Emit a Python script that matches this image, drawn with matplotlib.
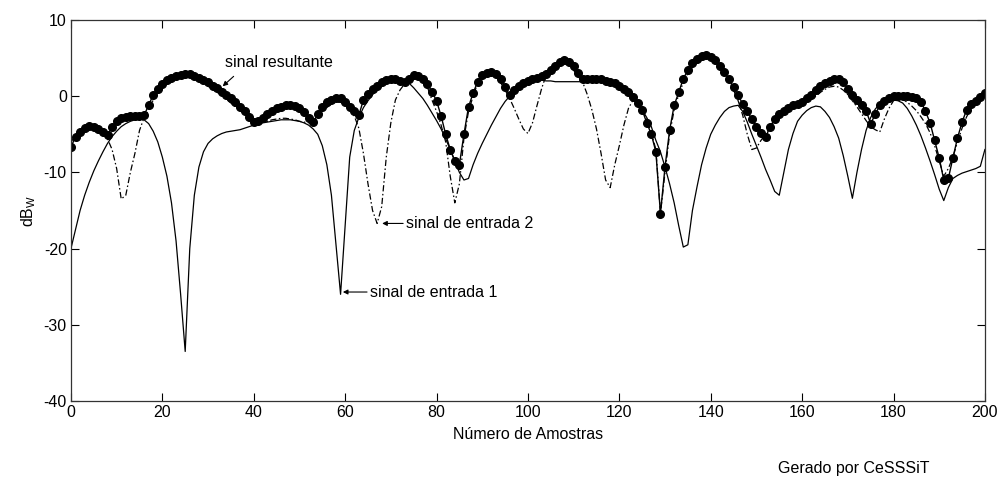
import numpy as np
import matplotlib.pyplot as plt

plt.rcParams['font.family'] = ['Liberation Sans', 'DejaVu Sans']
plt.rcParams['axes.unicode_minus'] = False

# amostras 0..200
amostras = np.arange(0, 201)

# sinal de entrada 1 (linha cheia), dB
entrada1 = [
    -20.0, -17.5, -15.0, -13.0, -11.3, -9.8, -8.5, -7.3, -6.2, -5.3,
    -4.6, -4.0, -3.6, -3.3, -3.1, -3.0, -3.1, -3.6, -4.6, -6.0,
    -8.0, -10.5, -14.0, -19.0, -26.0, -33.5, -20.0, -13.0, -9.3, -7.3,
    -6.2, -5.6, -5.2, -4.9, -4.7, -4.6, -4.5, -4.4, -4.2, -4.0,
    -3.8, -3.6, -3.5, -3.4, -3.3, -3.2, -3.1, -3.1, -3.1, -3.2,
    -3.3, -3.5, -3.8, -4.3, -5.0, -6.5, -9.0, -13.0, -19.5, -26.0,
    -17.0, -8.0, -4.5, -2.8, -1.5, -0.6, 0.2, 0.8, 1.3, 1.7,
    2.0, 2.1, 2.1, 2.0, 1.7, 1.1, 0.4, -0.3, -1.2, -2.2,
    -3.2, -4.3, -5.6, -7.0, -8.5, -10.0, -11.0, -10.8, -9.0, -7.5,
    -6.2, -5.0, -3.8, -2.7, -1.6, -0.7, 0.0, 0.6, 1.1, 1.5,
    1.8, 2.0, 2.1, 2.1, 2.0, 2.0, 1.9, 1.9, 1.9, 1.9,
    1.9, 1.9, 1.9, 1.9, 1.9, 1.9, 1.9, 1.8, 1.7, 1.6,
    1.5, 1.0, 0.4, -0.3, -1.0, -1.8, -2.8, -4.0, -5.8, -7.3,
    -9.3, -11.5, -14.0, -17.0, -19.8, -19.5, -15.0, -11.9, -9.0, -6.8,
    -5.0, -3.8, -2.8, -2.0, -1.5, -1.3, -1.2, -2.0, -3.4, -5.0,
    -6.5, -8.0, -9.6, -11.0, -12.5, -13.0, -10.0, -7.0, -4.9, -3.3,
    -2.5, -1.9, -1.5, -1.3, -1.4, -2.0, -2.8, -4.0, -5.5, -7.8,
    -10.5, -13.4, -10.0, -7.0, -4.5, -2.8, -1.7, -1.0, -0.6, -0.4,
    -0.5, -0.6, -0.9, -1.6, -2.6, -3.8, -5.2, -6.8, -8.5, -10.3,
    -12.2, -13.7, -12.0, -10.8, -10.4, -10.1, -9.9, -9.7, -9.5, -9.2,
    -7.0,
]

# sinal de entrada 2 (traco-ponto), dB
entrada2 = [
    -6.0, -5.2, -4.6, -4.2, -4.0, -4.1, -4.4, -4.9, -5.6, -7.0,
    -9.5, -13.5, -13.0, -10.0, -7.5, -4.5, -2.8, -1.8, -0.5, 0.5,
    1.3, 1.8, 2.2, 2.5, 2.6, 2.6, 2.5, 2.3, 2.0, 1.7,
    1.3, 0.9, 0.5, 0.1, -0.4, -0.9, -1.4, -1.9, -2.4, -2.9,
    -3.3, -3.5, -3.4, -3.3, -3.1, -3.0, -2.9, -2.9, -3.0, -3.1,
    -3.3, -3.4, -3.5, -3.5, -3.0, -2.2, -1.5, -1.0, -0.8, -0.8,
    -1.1, -1.7, -2.6, -4.2, -7.5, -11.5, -15.0, -16.7, -14.5, -8.0,
    -3.5, -0.5, 0.8, 1.6, 2.1, 2.3, 2.3, 2.0, 1.2, -0.5,
    -2.0, -3.8, -6.0, -10.5, -14.0, -11.5, -5.5, -2.0, 0.0, 1.7,
    2.6, 2.9, 2.9, 2.5, 1.8, 0.8, -0.3, -1.6, -3.0, -4.3,
    -4.9, -3.5, -1.2, 1.0, 2.8, 3.6, 4.0, 4.2, 4.2, 4.0,
    3.4, 2.6, 1.8, 0.2, -1.8, -4.3, -7.5, -11.0, -12.0, -9.0,
    -6.5, -3.8, -1.6, -0.5, -1.0, -2.0, -3.0, -4.8, -7.0, -15.4,
    -10.0, -5.0, -1.8, 0.2, 1.8, 3.0, 3.8, 4.3, 4.7, 4.9,
    4.9, 4.5, 3.8, 3.0, 2.0, 0.8, -0.6, -2.5, -5.0, -7.0,
    -6.8, -5.8, -5.0, -4.0, -3.2, -2.6, -2.2, -1.9, -1.6, -1.4,
    -1.1, -0.8, -0.4, 0.0, 0.5, 0.9, 1.2, 1.3, 1.2, 0.8,
    0.2, -0.6, -1.4, -2.3, -3.2, -4.0, -4.4, -4.7, -3.0, -1.6,
    -0.6, -0.3, -0.4, -0.8, -1.3, -1.9, -2.7, -3.6, -4.8, -6.5,
    -8.5, -10.5, -9.5, -8.0, -6.0, -4.2, -2.7, -1.6, -0.9, -0.4,
    -0.1,
]

# sinal resultante (linha com pontos), dB
resultante = [
    -6.7, -5.3, -4.7, -4.2, -3.9, -4.0, -4.3, -4.7, -5.1, -4.0,
    -3.3, -2.9, -2.7, -2.6, -2.6, -2.6, -2.5, -1.2, 0.2, 0.9,
    1.6, 2.1, 2.4, 2.7, 2.8, 2.9, 2.9, 2.7, 2.4, 2.1,
    1.8, 1.4, 1.1, 0.6, 0.2, -0.3, -0.8, -1.4, -2.0, -2.7,
    -3.4, -3.3, -2.8, -2.3, -1.9, -1.6, -1.4, -1.2, -1.2, -1.3,
    -1.6, -2.1, -2.8, -3.4, -2.4, -1.4, -0.8, -0.5, -0.3, -0.3,
    -0.7, -1.4, -2.0, -2.5, -0.5, 0.3, 0.9, 1.4, 1.8, 2.1,
    2.3, 2.2, 2.0, 1.9, 2.3, 2.8, 2.7, 2.3, 1.6, 0.6,
    -0.6, -2.6, -5.0, -7.0, -8.5, -9.0, -5.0, -1.4, 0.4, 1.9,
    2.8, 3.1, 3.2, 2.9, 2.3, 1.2, 0.1, 0.8, 1.3, 1.7,
    2.0, 2.2, 2.4, 2.6, 2.9, 3.4, 4.0, 4.5, 4.7, 4.5,
    3.9, 3.0, 2.3, 2.2, 2.2, 2.3, 2.2, 2.0, 1.9, 1.7,
    1.4, 1.0, 0.5, -0.1, -0.9, -1.8, -3.5, -5.0, -7.3, -15.4,
    -9.3, -4.5, -1.2, 0.5, 2.3, 3.4, 4.3, 4.9, 5.3, 5.4,
    5.2, 4.7, 3.9, 3.2, 2.2, 1.2, 0.1, -1.0, -2.0, -3.0,
    -4.0, -4.8, -5.4, -4.0, -3.0, -2.4, -1.9, -1.5, -1.2, -1.0,
    -0.7, -0.3, 0.2, 0.8, 1.3, 1.7, 2.0, 2.3, 2.3, 1.8,
    1.0, 0.2, -0.5, -1.2, -1.9, -3.6, -2.4, -1.2, -0.6, -0.2,
    0.0, 0.0, 0.0, 0.0, -0.1, -0.3, -0.7, -2.0, -3.5, -5.8,
    -8.1, -11.0, -10.8, -8.1, -5.5, -3.4, -1.8, -1.0, -0.6, -0.1,
    0.4,
]

xticks = list(range(0, 201, 20))
yticks = [-40, -30, -20, -10, 0, 10]

fig = plt.figure(figsize=(10.05, 4.87), dpi=100)
ax = fig.add_axes([0.0706, 0.1766, 0.9094, 0.7824])

ax.plot(amostras, entrada1, '-', color='k', lw=0.9)
ax.plot(amostras, entrada2, color='k', lw=0.9, dashes=(5, 2, 1.2, 2))
ax.plot(amostras, resultante, '-', color='k', lw=1.0,
        marker='o', markersize=5.5, markerfacecolor='k', markeredgecolor='k')

ax.set_xlim(0, 200)
ax.set_ylim(-40, 10)
ax.set_xticks(xticks)
ax.set_yticks(yticks)
ax.tick_params(direction='in', length=6, width=0.8, top=True, right=True,
               labelsize=11.5, pad=3)
for sp in ax.spines.values():
    sp.set_linewidth(0.9)
    sp.set_color('#333333')

ax.set_xlabel('Número de Amostras', fontsize=11.5, labelpad=5)
ax.set_ylabel('dB$_\\mathregular{W}$', fontsize=11.5, labelpad=4)

arrow = dict(arrowstyle='-|>', color='k', lw=0.8, mutation_scale=7,
             shrinkA=0, shrinkB=0)
ax.text(33.7, 4.4, 'sinal resultante', fontsize=11.5, ha='left', va='center')
ax.annotate('', xy=(33.2, 1.3), xytext=(35.6, 2.6), arrowprops=arrow)
ax.annotate('sinal de entrada 2', xy=(68.1, -16.7), xytext=(73.3, -16.7),
            fontsize=11.5, ha='left', va='center', arrowprops=arrow)
ax.annotate('sinal de entrada 1', xy=(59.5, -25.7), xytext=(65.4, -25.7),
            fontsize=11.5, ha='left', va='center', arrowprops=arrow)

fig.text(854 / 1005, 1 - 469 / 487, 'Gerado por CeSSSiT', fontsize=11.5,
         ha='center', va='center')

fig.savefig('out.png', dpi=100)
